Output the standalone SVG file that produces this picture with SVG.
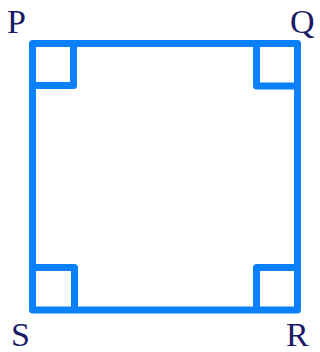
<svg xmlns="http://www.w3.org/2000/svg" width="320" height="352" viewBox="0 0 320 352">
<style>
.ln{fill:none;stroke:#0a80fa;stroke-width:7;stroke-linejoin:round;stroke-linecap:butt}
.lb{font-family:"Liberation Serif",serif;font-size:34px;fill:#1a1a66}
</style>
<rect width="320" height="352" fill="#ffffff"/>
<g id="square">
<rect class="ln" x="32.5" y="43.5" width="265" height="266.5"/>
</g>
<g id="marks">
<path class="ln" d="M32.5 85.5 H73.5 V43.5"/>
<path class="ln" d="M297.5 86 H256.5 V43.5"/>
<path class="ln" d="M32.5 267.5 H74.5 V310"/>
<path class="ln" d="M297.5 267.5 H256.5 V310"/>
</g>
<g id="P"><text class="lb" x="7" y="33">P</text></g>
<g id="Q"><text class="lb" x="290" y="33">Q</text></g>
<g id="S"><text class="lb" x="11" y="346">S</text></g>
<g id="R"><text class="lb" x="286" y="346">R</text></g>
</svg>
